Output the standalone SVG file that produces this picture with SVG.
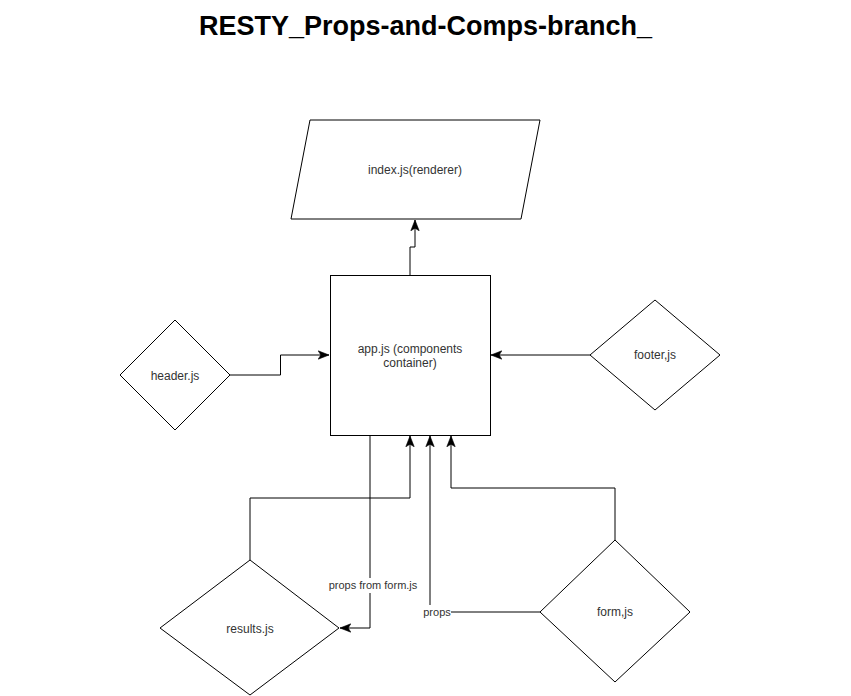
<svg xmlns="http://www.w3.org/2000/svg" width="851" height="696" viewBox="0 0 851 696">
<defs>
<style>
.shape{fill:#fff;stroke:#000;stroke-width:1}
.conn{fill:none;stroke:#000;stroke-width:1}
.lbl{font-family:"Liberation Sans",Arial,sans-serif;font-size:12px;fill:#333;text-anchor:middle;dominant-baseline:central}
.elbl{font-family:"Liberation Sans",Arial,sans-serif;font-size:11px;fill:#333;text-anchor:middle;dominant-baseline:central}
.title{font-family:"Liberation Sans",Arial,sans-serif;font-size:27px;font-weight:bold;fill:#000;text-anchor:middle}
</style>
<marker id="arr" markerUnits="userSpaceOnUse" markerWidth="12" markerHeight="10" viewBox="0 0 10 8" refX="9" refY="4" orient="auto">
<path d="M0,0.5 L9,4 L0,7.5 L2.2,4 Z" fill="#000" stroke="#000" stroke-width="0.5"/>
</marker>
</defs>
<rect width="851" height="696" fill="#fff"/>
<text class="title" x="425.5" y="35">RESTY_Props-and-Comps-branch_</text>
<g id="connectors">
<path class="conn" d="M410,275 V247 H415 V220" marker-end="url(#arr)"/>
<path class="conn" d="M230,375 H280.5 V355 H329" marker-end="url(#arr)"/>
<path class="conn" d="M590,355 H491" marker-end="url(#arr)"/>
<path class="conn" d="M250,560 V498 H410 V436" marker-end="url(#arr)"/>
<path class="conn" d="M370,435 V628 H340" marker-end="url(#arr)"/>
<path class="conn" d="M615,540 V488 H451 V436" marker-end="url(#arr)"/>
<path class="conn" d="M540,612 H430 V436" marker-end="url(#arr)"/>
<rect x="329" y="578" width="88" height="15" fill="#fff"/>
<text class="elbl" x="373" y="585">props from form.js</text>
<rect x="423" y="605" width="28" height="14" fill="#fff"/>
<text class="elbl" x="437" y="612">props</text>
</g>
<g id="index">
<polygon class="shape" points="310,120 540,120 521,219 291,219"/>
<text class="lbl" x="415" y="170">index.js(renderer)</text>
</g>
<g id="app">
<rect class="shape" x="330.5" y="275.5" width="160" height="160"/>
<text class="lbl" x="410" y="349">app.js (components</text>
<text class="lbl" x="410" y="363">container)</text>
</g>
<g id="header">
<polygon class="shape" points="120,375 175,320 230,375 175,430"/>
<text class="lbl" x="175" y="376">header.js</text>
</g>
<g id="footer">
<polygon class="shape" points="590,355 655,300 720,355 655,410"/>
<text class="lbl" x="655" y="355">footer,js</text>
</g>
<g id="results">
<polygon class="shape" points="160,628 250,560 339,628 250,695"/>
<text class="lbl" x="250" y="629">results.js</text>
</g>
<g id="form">
<polygon class="shape" points="540,612 615,540 690,612 615,682"/>
<text class="lbl" x="615" y="612">form,js</text>
</g>
</svg>
